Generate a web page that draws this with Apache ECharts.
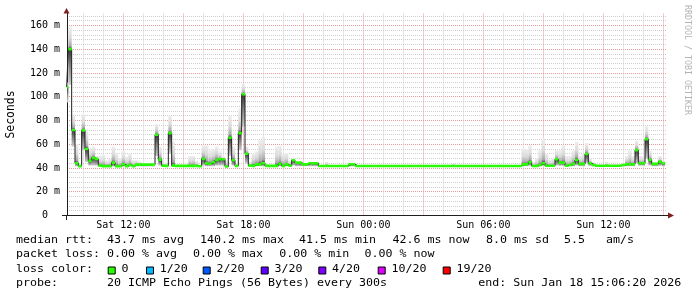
<!DOCTYPE html>
<html><head><meta charset="utf-8">
<script src="https://cdn.jsdelivr.net/npm/echarts@6/dist/echarts.min.js"></script>
<style>html,body{margin:0;padding:0;background:#fff;}#c{width:697px;height:297px;}</style>
</head><body><div id="c"></div>
<script>
// ---- data (minutes since Sat 00:00, one sample every 10 minutes) ----
const startMinute = 550;
const stepMinutes = 10;
const median = [
108,140,72,44,41.6,71.6,56,46,48.5,47.5,
42,41.6,41.6,41.6,44.5,41.6,41.6,43,41.6,42.5,
41.6,42.8,42.8,42.8,42.8,42.8,42.8,68,47,42,
41.8,69.3,42,41.8,41.8,41.8,41.8,41.8,41.8,41.8,
41.5,47.7,44,43.5,44.8,46.7,47.3,47.3,41.2,65.4,
46.5,41.8,69.3,102,52,42,41.8,43,43,44,
41.8,41.8,41.8,41.8,43.5,41.8,43,42,46.5,44.5,
44.5,43,43.1,44,44,44,41.7,41.7,41.7,41.7,
41.7,41.7,41.7,41.7,41.7,43.1,43.1,41.7,41.7,41.7,
41.7,41.7,41.7,41.7,41.7,41.7,41.7,41.7,41.7,41.7,
41.7,41.7,41.7,41.7,41.7,41.7,41.7,41.7,41.7,41.7,
41.7,41.7,41.7,41.7,41.7,41.7,41.7,41.7,41.7,41.7,
41.7,41.7,41.7,41.7,41.7,41.7,41.7,41.7,41.7,41.7,
41.7,41.7,41.7,41.7,41.7,41.7,41.7,43,43,44.8,
41.7,41.7,42.5,44,41.9,41.9,41.9,47.3,44.5,44.5,
41.9,42.5,43.4,46.7,43.4,43.4,51.8,44,42.5,41.9,
41.9,41.9,41.9,41.9,41.9,41.9,41.9,42.5,43.1,43.1,
43.1,55,44,44,64.2,46.7,43.4,43.4,45.3,44
];
const smokeMax = [
112,159,85,60,43,85,73,57,58,50,
50,51,46.5,48,58,53,48,54,49.5,52,
46.5,46.5,45.3,44,44,44,44,77,58,44,
44,84,62,43,43,43,43,50,50,46,
43,59,59,55,56,58,54,49.5,46.5,84,
58,44,90,111,58,45,52,54,63.6,66,
44,43,43,58,58.5,52,52.7,46.5,47.7,45,
44,44,44,44.5,44.5,44.5,42.5,42.5,45,42.5,
42.5,42.5,42.5,42.5,42.5,43.8,43.8,42.5,42.5,42.5,
42.5,42.5,42.5,42.5,42.5,42.5,42.5,42.5,42.5,42.5,
42.5,42.5,42.5,42.5,42.5,42.5,42.5,42.5,42.5,42.5,
42.5,42.5,42.5,42.5,42.5,42.5,44,42.5,42.5,42.5,
42.5,42.5,42.5,42.5,42.5,42.5,42.5,42.5,42.5,42.5,
42.5,42.5,42.5,42.5,42.5,42.5,42.5,56,56,59,
45,48,55,65,52,47,48,55,55,59,
50,50,55,62,50,52,61,48,45,43,
43,43,45,43,43,43,43,44,50,55,
50,63,50,50,75,55,45,45,50,46
];
const smokeMin = [
95,110,58,41.5,41.2,55,45,42,42,42,
41.2,41.2,41.2,41.2,41.2,41.2,41.2,41.2,41.2,41.2,
41.2,41.2,41.2,41.2,41.2,41.2,41.2,50,42,41.2,
41.2,52,41.2,41.2,41.2,41.2,41.2,41.2,41.2,41.2,
41.2,42,41.5,41.5,41.5,42,42,42,40.8,50,
42,41.2,55,75,44,41.2,41.2,41.5,41.5,41.5,
41.2,41.2,41.2,41.2,41.5,41.2,41.5,41.2,42,41.5,
41.5,41.5,41.5,41.5,41.5,41.5,41.2,41.2,41.2,41.2,
41.2,41.2,41.2,41.2,41.2,41.2,41.2,41.2,41.2,41.2,
41.2,41.2,41.2,41.2,41.2,41.2,41.2,41.2,41.2,41.2,
41.2,41.2,41.2,41.2,41.2,41.2,41.2,41.2,41.2,41.2,
41.2,41.2,41.2,41.2,41.2,41.2,41.2,41.2,41.2,41.2,
41.2,41.2,41.2,41.2,41.2,41.2,41.2,41.2,41.2,41.2,
41.2,41.2,41.2,41.2,41.2,41.2,41.2,41.5,41.5,41.8,
41.2,41.2,41.5,41.8,41.2,41.2,41.2,42,41.8,41.8,
41.2,41.5,41.5,42,41.5,41.5,44,41.8,41.5,41.2,
41.2,41.2,41.2,41.2,41.2,41.2,41.2,41.5,41.5,41.5,
41.5,44,41.8,41.8,48,42,41.5,41.5,41.8,41.5
];
const xLabelMinutes = [720, 1080, 1440, 1800, 2160];
const xLabelTexts = ['Sat 12:00', 'Sat 18:00', 'Sun 00:00', 'Sun 06:00', 'Sun 12:00'];
const yTickValues = [0, 20, 40, 60, 80, 100, 120, 140, 160];
const yTickLabels = ['0  ', '20 m', '40 m', '60 m', '80 m', '100 m', '120 m', '140 m', '160 m'];
const statsLine1 = ['median rtt:  43.7 ms avg', '140.2 ms max', '41.5 ms min', '42.6 ms now', '8.0 ms sd', '5.5   am/s'];
const statsLine2 = ['packet loss: 0.00 % avg', '0.00 % max', '0.00 % min', '0.00 % now'];
const lossTitle = 'loss color:';
const lossLabels = ['0', '1/20', '2/20', '3/20', '4/20', '10/20', '19/20'];
const lossColors = ['#26ff00', '#00b8ff', '#0059ff', '#5e00ff', '#7e00ff', '#dd00ff', '#ff0000'];
const probeText = 'probe:       20 ICMP Echo Pings (56 Bytes) every 300s';
const endText = 'end: Sun Jan 18 15:06:20 2026';
const yTitle = 'Seconds';
const watermark = 'RRDTOOL / TOBI OETIKER';

// ---- layout ----
const G = {left: 67, top: 13.5, width: 600, height: 202};
const xMin = 551, xMax = 2351;
const line1X = [16, 200, 299, 392.5, 486, 564];
const line2X = [16, 193, 279.3, 364.5];
const lossBoxX = [107.7, 146, 202.7, 260.7, 318.3, 377.7, 442.7];
const lineY = [240.5, 254.9, 269.2, 283.5];
const MONO = 'DejaVu Sans Mono';
const legendScale = 1.163;
const bandHalf = 1.1;
const MAJOR = '#e89a9a';
const MINOR = '#cfcfcf';
const NONE = 'rgba(255,255,255,0)';

const times = median.map((_, i) => startMinute + i * stepMinutes);
const smokeData = times.map((t, i) => [t, smokeMin[i], smokeMax[i], median[i]]);
const medianData = times.map((t, i) => [t, median[i]]);

function smokeItem(params, api) {
  const t = api.value(0), lo = api.value(1), hi = api.value(2), med = api.value(3);
  const pHi = api.coord([t, hi]), pLo = api.coord([t, lo]), pMed = api.coord([t, med]);
  const w = api.size([stepMinutes, 0])[0];
  const h = pLo[1] - pHi[1];
  if (!(h > 0.3)) return null;
  let f = (pMed[1] - pHi[1]) / h; f = Math.max(0, Math.min(1, f));
  const stops = [
    {offset: 0, color: '#eeeeee'},
    {offset: f * 0.5, color: '#dadada'},
    {offset: f * 0.85, color: '#a9a9a9'},
    {offset: f, color: '#363636'},
    {offset: f + (1 - f) * 0.45, color: '#808080'},
    {offset: 1, color: '#cccccc'}
  ];
  return {type: 'rect', shape: {x: pHi[0] - w / 2, y: pHi[1], width: w, height: h},
    style: {fill: new echarts.graphic.LinearGradient(0, 0, 0, 1, stops)}};
}
function bandItem(params, api) {
  const t = api.value(0), m = api.value(1);
  const a = api.coord([t, m + bandHalf]), b = api.coord([t, m - bandHalf]);
  const w = api.size([stepMinutes, 0])[0];
  return {type: 'rect', shape: {x: a[0] - w / 2, y: a[1], width: w, height: b[1] - a[1]},
    style: {fill: lossColors[0]}};
}

function txt(text, x, y, opts) {
  opts = opts || {};
  const size = opts.size || 10;
  return {type: 'text', x: x, y: y, rotation: opts.rotation || 0,
    scaleX: opts.scaleX || 1, silent: true, z: 10,
    style: {text: text, fontFamily: opts.family || MONO, fontSize: size,
      font: size + 'px "' + (opts.family || MONO) + '"',
      fill: opts.color || '#000', align: opts.align || 'left', textAlign: opts.align || 'left',
      verticalAlign: 'middle', textVerticalAlign: 'middle'}};
}

const graphics = [];
// axis extensions and arrows
graphics.push({type: 'line', silent: true, shape: {x1: 66.5, y1: 215, x2: 66.5, y2: 220}, style: {stroke: '#1f1f1f', lineWidth: 1}});
graphics.push({type: 'line', silent: true, shape: {x1: 62, y1: 215.5, x2: 668, y2: 215.5}, style: {stroke: '#1f1f1f', lineWidth: 1}});
graphics.push({type: 'polygon', silent: true, shape: {points: [[63.5, 13.5], [69.5, 13.5], [66.5, 8]]}, style: {fill: '#801f1f'}});
graphics.push({type: 'polygon', silent: true, shape: {points: [[668, 212.5], [668, 218.5], [674, 215.5]]}, style: {fill: '#801f1f'}});
// titles
graphics.push(txt(yTitle, 11, 114.5, {rotation: Math.PI / 2, align: 'center', size: 11.4}));
graphics.push(txt(watermark, 687.5, 60, {rotation: -Math.PI / 2, align: 'center', size: 8.3, color: '#b4b4b4'}));
// legend lines
statsLine1.forEach((s, i) => graphics.push(txt(s, line1X[i], lineY[0], {scaleX: legendScale})));
statsLine2.forEach((s, i) => graphics.push(txt(s, line2X[i], lineY[1], {scaleX: legendScale})));
graphics.push(txt(lossTitle, 16, lineY[2], {scaleX: legendScale}));
lossLabels.forEach((s, i) => {
  graphics.push({type: 'rect', silent: true, z: 10, shape: {x: lossBoxX[i] + 0.5, y: 267, width: 7, height: 7},
    style: {fill: lossColors[i], stroke: '#000', lineWidth: 1}});
  graphics.push(txt(s, lossBoxX[i] + 13.7, lineY[2], {scaleX: legendScale}));
});
graphics.push(txt(probeText, 16, lineY[3], {scaleX: legendScale}));
graphics.push(txt(endText, 478.3, lineY[3], {scaleX: legendScale}));

const chart = echarts.init(document.getElementById('c'), null, {renderer: 'canvas'});
chart.setOption({
  animation: false,
  backgroundColor: '#ffffff',
  grid: {left: G.left, top: G.top, width: G.width, height: G.height, containLabel: false},
  xAxis: {
    type: 'value', min: xMin, max: xMax, minInterval: 180, maxInterval: 180,
    axisLine: {show: true, onZero: false, lineStyle: {color: '#1f1f1f', width: 1}},
    axisTick: {show: false},
    axisLabel: {margin: 5, fontFamily: MONO, fontSize: 10, color: '#000',
      showMinLabel: false, showMaxLabel: false,
      formatter: v => { const k = xLabelMinutes.indexOf(Math.round(v)); return k >= 0 ? xLabelTexts[k] : ''; }},
    splitLine: {show: true, lineStyle: {color: [NONE, MAJOR, MAJOR, MAJOR, MAJOR, MAJOR, MAJOR, MAJOR, MAJOR, MAJOR, MAJOR, NONE], type: [1, 1], width: 1}},
    minorTick: {show: false, splitNumber: 3},
    minorSplitLine: {show: true, lineStyle: {color: MINOR, type: [1, 1], width: 1}}
  },
  yAxis: {
    type: 'value', min: 0, max: 170, interval: 20,
    axisLine: {show: true, lineStyle: {color: '#1f1f1f', width: 1}},
    axisTick: {show: false},
    axisLabel: {margin: 7, fontFamily: MONO, fontSize: 10, color: '#000', showMaxLabel: false,
      formatter: v => { const k = yTickValues.indexOf(Math.round(v)); return k >= 0 ? yTickLabels[k] : ''; }},
    splitLine: {show: true, lineStyle: {color: [MAJOR, MAJOR, MAJOR, MAJOR, MAJOR, MAJOR, MAJOR, MAJOR, MAJOR, NONE], type: [1, 1], width: 1}},
    minorTick: {show: false, splitNumber: 5},
    minorSplitLine: {show: true, lineStyle: {color: MINOR, type: [1, 1], width: 1}}
  },
  series: [
    {type: 'custom', name: 'smoke', renderItem: smokeItem, data: smokeData, clip: true, silent: true,
      encode: {x: 0, y: [1, 2]}, z: 2},
    {type: 'line', name: 'median', data: medianData, step: 'middle', symbol: 'none', silent: true,
      lineStyle: {color: '#202020', width: 1}, z: 3},
    {type: 'custom', name: 'loss 0', renderItem: bandItem, data: medianData, clip: true, silent: true,
      encode: {x: 0, y: 1}, z: 4}
  ],
  graphic: graphics
});
</script>
</body></html>
